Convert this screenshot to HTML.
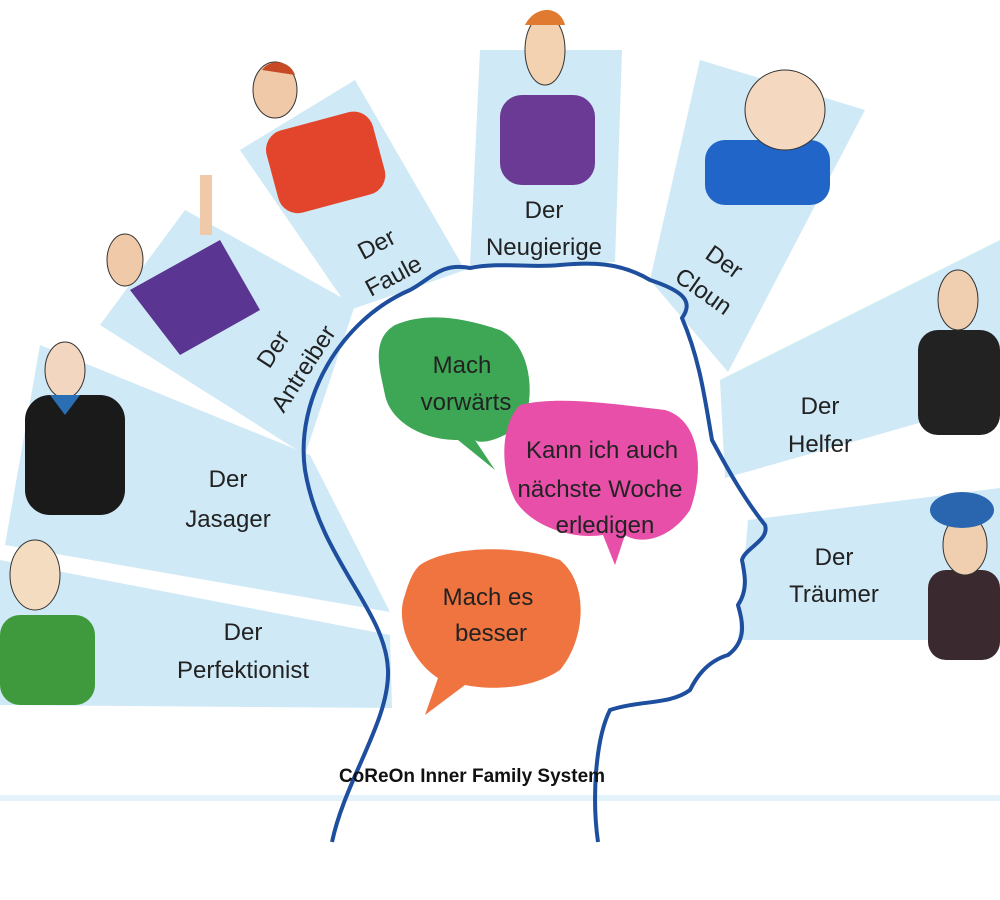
<!DOCTYPE html>
<html><head><meta charset="utf-8"><style>
html,body{margin:0;padding:0;background:#fff;}
svg{display:block}
text{font-family:"Liberation Sans","DejaVu Sans",sans-serif;fill:#222;font-size:24px}
</style></head><body>
<svg width="1000" height="900" viewBox="0 0 1000 900" xmlns="http://www.w3.org/2000/svg">
<g fill="#cfe9f6">
<polygon points="0,560 390,635 392,708 0,705"/>
<polygon points="40,345 310,455 390,612 5,545"/>
<polygon points="100,325 185,210 355,305 305,455"/>
<polygon points="240,150 355,80 465,270 350,310"/>
<polygon points="480,50 622,50 615,262 470,265"/>
<polygon points="700,60 865,110 728,372 650,280"/>
<polygon points="720,380 1000,240 1000,400 725,478"/>
<polygon points="748,520 1000,488 1000,640 738,640"/>
</g>
<rect x="0" y="795" width="1000" height="6" fill="#e4f2f9"/>
<!-- head -->
<path d="M332,842 C345,780 390,720 388,670 C386,610 320,560 305,470 C295,400 340,320 410,290 C430,280 440,262 470,268 C500,262 530,268 560,265 C590,262 620,262 650,280 C680,290 695,300 682,318 C700,360 705,400 712,440 C728,470 745,500 765,525 C770,540 745,548 742,560 C745,575 748,590 738,605 C742,620 748,640 728,655 C705,662 695,680 690,690 C670,705 640,700 610,710 C595,740 592,800 598,842" fill="none" stroke="#1e4e9e" stroke-width="4"/>
<!-- bubbles -->
<path d="M395,325 C430,310 470,320 500,330 C530,345 535,390 525,420 C505,440 480,445 475,440 L495,470 L458,440 C420,440 390,420 385,395 C380,370 370,340 395,325Z" fill="#3da756"/>
<path d="M520,405 C560,395 620,405 665,410 C700,420 705,470 690,510 C670,540 640,545 625,535 L615,565 L603,535 C570,540 530,525 515,500 C500,470 500,425 520,405Z" fill="#e74fa8"/>
<path d="M420,565 C450,545 520,545 560,560 C590,585 585,640 560,670 C530,690 490,690 465,685 L425,715 L438,678 C410,660 395,620 405,595 C408,585 412,572 420,565Z" fill="#ef7440"/>
<text x="462" y="373" text-anchor="middle">Mach</text>
<text x="466" y="410" text-anchor="middle">vorwärts</text>
<text x="602" y="458" text-anchor="middle">Kann ich auch</text>
<text x="600" y="497" text-anchor="middle">nächste Woche</text>
<text x="605" y="533" text-anchor="middle">erledigen</text>
<text x="488" y="605" text-anchor="middle">Mach es</text>
<text x="491" y="641" text-anchor="middle">besser</text>
<!-- labels -->
<text x="243" y="640" text-anchor="middle">Der</text>
<text x="243" y="678" text-anchor="middle">Perfektionist</text>
<text x="228" y="487" text-anchor="middle">Der</text>
<text x="228" y="527" text-anchor="middle">Jasager</text>
<text transform="translate(290,360) rotate(-57)" text-anchor="middle"><tspan x="0" y="-12">Der</tspan><tspan x="0" y="24">Antreiber</tspan></text>
<text transform="translate(385,260) rotate(-28)" text-anchor="middle"><tspan x="0" y="-10">Der</tspan><tspan x="0" y="26">Faule</tspan></text>
<text x="544" y="218" text-anchor="middle">Der</text>
<text x="544" y="255" text-anchor="middle">Neugierige</text>
<text transform="translate(715,275) rotate(35)" text-anchor="middle"><tspan x="0" y="-8">Der</tspan><tspan x="0" y="28">Cloun</tspan></text>
<text x="820" y="414" text-anchor="middle">Der</text>
<text x="820" y="452" text-anchor="middle">Helfer</text>
<text x="834" y="565" text-anchor="middle">Der</text>
<text x="834" y="602" text-anchor="middle">Träumer</text>
<text x="472" y="782" text-anchor="middle" style="font-size:19px;font-weight:bold;fill:#111">CoReOn Inner Family System</text>
<!-- figures -->
<g>
<rect x="0" y="615" width="95" height="90" rx="20" fill="#3e9a3c"/><ellipse cx="35" cy="575" rx="25" ry="35" fill="#f4dcc0" stroke="#333"/>
<rect x="25" y="395" width="100" height="120" rx="25" fill="#1a1a1a"/><ellipse cx="65" cy="370" rx="20" ry="28" fill="#f3d6c0" stroke="#333"/><polygon points="50,395 80,395 65,415" fill="#2a6fb4"/>
<polygon points="130,290 220,240 260,310 180,355" fill="#5b3592"/><ellipse cx="125" cy="260" rx="18" ry="26" fill="#f0c9a8" stroke="#333"/><rect x="200" y="175" width="12" height="60" fill="#f0c9a8"/>
<rect x="270" y="120" width="110" height="85" rx="20" fill="#e2452b" transform="rotate(-15 325 160)"/><ellipse cx="275" cy="90" rx="22" ry="28" fill="#f0c9a8" stroke="#333"/><path d="M262,70 C270,58 290,60 295,75" fill="#c84a25"/>
<rect x="500" y="95" width="95" height="90" rx="22" fill="#6a3a95"/><ellipse cx="545" cy="50" rx="20" ry="35" fill="#f2d2b0" stroke="#333"/><path d="M525,25 C535,5 560,5 565,25" fill="#e07a30"/>
<rect x="705" y="140" width="125" height="65" rx="20" fill="#2265c8"/><ellipse cx="785" cy="110" rx="40" ry="40" fill="#f5d8c0" stroke="#333"/>
<rect x="918" y="330" width="82" height="105" rx="20" fill="#222"/><ellipse cx="958" cy="300" rx="20" ry="30" fill="#f0cfb0" stroke="#333"/>
<rect x="928" y="570" width="72" height="90" rx="18" fill="#3a2a30"/><ellipse cx="965" cy="545" rx="22" ry="30" fill="#f0cfb0" stroke="#333"/><ellipse cx="962" cy="510" rx="32" ry="18" fill="#2a66b0"/>
</g>
</svg>
</body></html>
